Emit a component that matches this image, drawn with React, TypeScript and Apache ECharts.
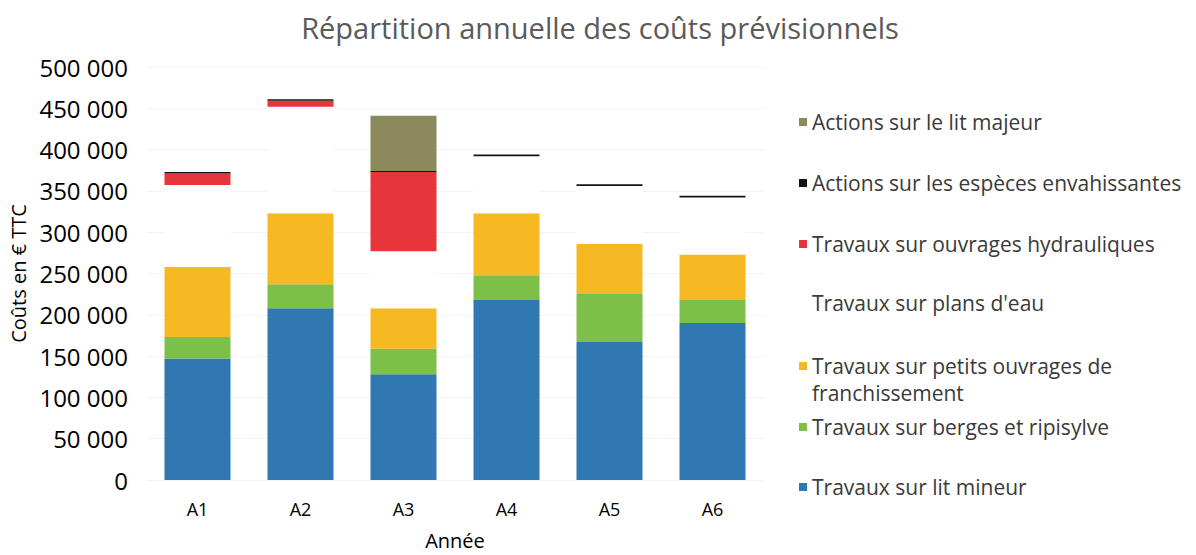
import React, { useEffect, useRef } from "react";
import * as echarts from "echarts";

const categories = ["A1", "A2", "A3", "A4", "A5", "A6"];
const litMineur = [147000, 208000, 128000, 218000, 167000, 190000];
const berges = [26000, 29000, 31000, 30000, 59000, 28000];
const petitsOuvrages = [85000, 86000, 49000, 75000, 60000, 55000];
const plansDeau = [99000, 129000, 69000, 69000, 70000, 69000];
const hydrauliques = [14000, 7000, 96000, 0, 0, 0];
const especes = [2000, 2000, 1000, 2000, 2000, 2000];
const litMajeur = [0, 0, 67000, 0, 0, 0];

const seriesDefs = [
  { name: "Travaux sur lit mineur", data: litMineur, color: "#2f78b1" },
  { name: "Travaux sur berges et ripisylve", data: berges, color: "#7cc04a" },
  { name: "Travaux sur petits ouvrages de franchissement", data: petitsOuvrages, color: "#f7b921" },
  { name: "Travaux sur plans d'eau", data: plansDeau, color: "#ffffff" },
  { name: "Travaux sur ouvrages hydrauliques", data: hydrauliques, color: "#e6353b" },
  { name: "Actions sur les espèces envahissantes", data: especes, color: "#141414" },
  { name: "Actions sur le lit majeur", data: litMajeur, color: "#8a8a5c" },
];

const legendCenters: Record<string, number> = {
  "Actions sur le lit majeur": 122,
  "Actions sur les espèces envahissantes": 183,
  "Travaux sur ouvrages hydrauliques": 244,
  "Travaux sur plans d'eau": 303,
  "Travaux sur petits ouvrages de franchissement": 366,
  "Travaux sur berges et ripisylve": 427,
  "Travaux sur lit mineur": 487,
};

const FONT = "'Open Sans', 'Noto Sans', sans-serif";
const LEG_FS = 21;
const LEG_LH = 26;

export default function App() {
  const ref = useRef<HTMLDivElement>(null);
  useEffect(() => {
    document.body.style.margin = "0";
    if (!ref.current) return;
    const chart = echarts.init(ref.current, undefined, { renderer: "svg" });
    const fmt = (v: number) => String(v).replace(/\B(?=(\d{3})+(?!\d))/g, " ");
    const legends = seriesDefs.map((s) => ({
      data: [s.name],
      orient: "vertical",
      left: 799,
      top: legendCenters[s.name] - LEG_LH / 2,
      padding: 0,
      itemWidth: 8,
      itemHeight: 8,
      itemGap: 0,
      icon: "rect",
      selectedMode: false,
      formatter: (n: string) =>
        n === "Travaux sur petits ouvrages de franchissement" ? "Travaux sur petits ouvrages de" : n,
      textStyle: { fontSize: LEG_FS, lineHeight: LEG_LH, color: "#3a3a3a", fontFamily: FONT, padding: [0, 0, 0, 0] },
    }));
    chart.setOption({
      animation: false,
      backgroundColor: "#ffffff",
      textStyle: { fontFamily: FONT },
      title: {
        text: "Répartition annuelle des coûts prévisionnels",
        left: 595,
        textAlign: "center",
        top: 8,
        textStyle: { fontSize: 29, fontWeight: "normal", color: "#5a5a5a", fontFamily: FONT },
      },
      legend: legends,
      graphic: [
        {
          type: "text",
          left: 812,
          top: 382,
          style: {
            text: "franchissement",
            fontSize: LEG_FS,
            fill: "#3a3a3a",
            fontFamily: FONT,
          },
        },
      ],
      grid: { left: 146, right: 432, top: 67, bottom: 70 },
      xAxis: {
        type: "category",
        data: categories,
        name: "Année",
        nameLocation: "middle",
        nameGap: 50,
        nameTextStyle: { fontSize: 20, color: "#000", fontFamily: FONT },
        axisLine: { show: false },
        axisTick: { show: false },
        axisLabel: { fontSize: 18, color: "#000", margin: 20, fontFamily: FONT },
      },
      yAxis: {
        type: "value",
        min: 0,
        max: 500000,
        interval: 50000,
        name: "Coûts en € TTC",
        nameLocation: "middle",
        nameRotate: 90,
        nameGap: 108,
        nameTextStyle: { fontSize: 20, color: "#000", fontFamily: FONT },
        axisLabel: { fontSize: 24, color: "#000", margin: 18, formatter: fmt, fontFamily: FONT },
        splitLine: { lineStyle: { color: "#f3f3f3", width: 1 } },
      },
      series: seriesDefs.map((s) => ({
        name: s.name,
        type: "bar",
        stack: "total",
        barWidth: 66,
        data: s.data,
        itemStyle: { color: s.color },
        emphasis: { disabled: true },
      })),
    });
    return () => chart.dispose();
  }, []);
  return <div ref={ref} style={{ width: 1196, height: 555 }} />;
}
